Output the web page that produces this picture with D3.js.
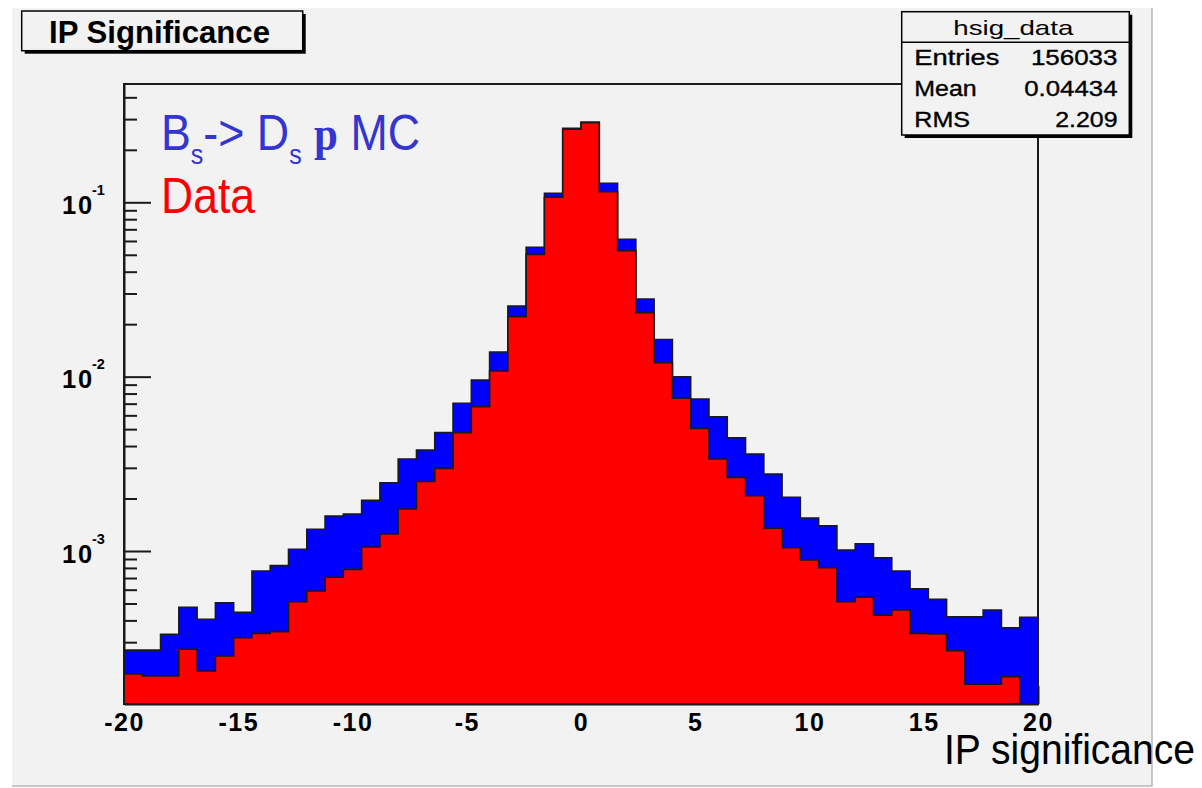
<!DOCTYPE html>
<html>
<head>
<meta charset="utf-8">
<script src="https://cdn.jsdelivr.net/npm/d3@7"></script>
<style>
  html, body { margin: 0; padding: 0; background: #ffffff; }
  svg { display: block; }
  .helv { font-family: 'Liberation Sans', Arial, Helvetica, sans-serif; }
</style>
</head>
<body>
<svg id="chart" width="1202" height="788"></svg>
<script>
// Histogram binning: 50 equal bins over the IP significance range
const xRange = [-20, 20];
const nBins = 50;

// Normalised bin contents, Bs -> Ds pi Monte Carlo (blue)
const mcValues = [
  2.70e-4, 2.70e-4, 3.33e-4, 4.75e-4, 4.06e-4, 5.05e-4, 4.45e-4, 7.68e-4, 8.24e-4, 1.023e-3,
  1.332e-3, 1.588e-3, 1.631e-3, 1.953e-3, 2.464e-3, 3.371e-3, 3.795e-3, 4.782e-3, 7.035e-3, 9.568e-3,
  1.385e-2, 2.543e-2, 5.52e-2, 0.1126, 0.2657, 0.2888, 0.1285, 6.135e-2, 2.789e-2, 1.633e-2,
  9.99e-3, 7.443e-3, 5.892e-3, 4.466e-3, 3.60e-3, 2.764e-3, 2.032e-3, 1.546e-3, 1.397e-3, 1.013e-3,
  1.101e-3, 9.15e-4, 7.68e-4, 6.08e-4, 5.28e-4, 4.20e-4, 4.20e-4, 4.59e-4, 3.63e-4, 4.17e-4
];

// Normalised bin contents, data (red)
const dataValues = [
  1.97e-4, 1.92e-4, 1.92e-4, 2.73e-4, 2.05e-4, 2.50e-4, 3.18e-4, 3.37e-4, 3.45e-4, 5.12e-4,
  5.90e-4, 7.07e-4, 7.85e-4, 1.054e-3, 1.252e-3, 1.741e-3, 2.504e-3, 2.98e-3, 4.77e-3, 6.725e-3,
  1.077e-2, 2.207e-2, 5.03e-2, 0.1068, 0.2622, 0.2861, 0.115, 5.277e-2, 2.327e-2, 1.202e-2,
  7.512e-3, 5.054e-3, 3.371e-3, 2.646e-3, 2.076e-3, 1.35e-3, 1.044e-3, 8.88e-4, 8.02e-4, 5.12e-4,
  5.43e-4, 4.29e-4, 4.59e-4, 3.37e-4, 3.34e-4, 2.68e-4, 1.72e-4, 1.72e-4, 1.90e-4, 0
];

const xTickValues = [-20, -15, -10, -5, 0, 5, 10, 15, 20];
const yDecades = [1e-3, 1e-2, 1e-1];
const yDomain = [1.326e-4, 0.477];

const plotTitle = "IP Significance";
const statsTitle = "hsig_data";
const statsRows = [["Entries", "156033"], ["Mean", "0.04434"], ["RMS", "2.209"]];
const xAxisTitle = "IP significance";

// ---- layout ----
const W = 1202, H = 788;
const pad = { x: 12, y: 8, right: 1152, bottom: 786 };
const frame = { left: 124, right: 1038, top: 84, bottom: 704 };
const bg = "#f2f2f2";
const ink = "#1a1a1a";

const svg = d3.select("#chart");

// canvas pad
svg.append("rect").attr("x", 0).attr("y", 0).attr("width", W).attr("height", H).attr("fill", "#fff");
svg.append("rect").attr("x", pad.x).attr("y", pad.y)
  .attr("width", pad.right - pad.x).attr("height", pad.bottom - pad.y).attr("fill", bg);
svg.append("path")
  .attr("d", `M${pad.right},${pad.y}V${pad.bottom}H${pad.x}`)
  .attr("fill", "none").attr("stroke", "#b8b8b8").attr("stroke-width", 1.5);

// scales
const x = d3.scaleLinear().domain(xRange).range([frame.left, frame.right]);
const y = d3.scaleLog().domain(yDomain).range([frame.bottom, frame.top]).clamp(true);

// ---- axes (drawn first; histogram fills cover ticks) ----
const isDecade = t => Math.abs(Math.log10(t) - Math.round(Math.log10(t))) < 1e-9;
const minorTicks = y.ticks().filter(t => !isDecade(t));

const gYMinor = svg.append("g").attr("transform", `translate(${frame.left},0)`)
  .call(d3.axisRight(y).tickValues(minorTicks).tickSizeInner(13).tickSizeOuter(0).tickFormat(""));
const gYMajor = svg.append("g").attr("transform", `translate(${frame.left},0)`)
  .call(d3.axisRight(y).tickValues(yDecades).tickSizeInner(27).tickSizeOuter(0).tickFormat(""));
gYMajor.select(".domain").remove();
[gYMinor, gYMajor].forEach(g => {
  g.selectAll("line").attr("stroke", ink).attr("stroke-width", 2);
  g.select(".domain").attr("stroke", ink).attr("stroke-width", 2);
});

// decade labels 10^n
const yLab = svg.append("g").attr("class", "helv").attr("font-weight", "bold").attr("fill", "#000");
yDecades.forEach(d => {
  const yy = y(d);
  yLab.append("text").attr("x", 94).attr("y", yy + 11.8)
    .attr("text-anchor", "end").attr("font-size", 25.5).style("letter-spacing", "1.8px").text("10");
  yLab.append("text").attr("x", 92).attr("y", yy - 7.3)
    .attr("text-anchor", "start").attr("font-size", 14.5).text(String(Math.round(Math.log10(d))));
});

const gX = svg.append("g").attr("transform", `translate(0,${frame.bottom})`)
  .call(d3.axisBottom(x).tickValues(xTickValues).tickSizeInner(-18).tickSizeOuter(0)
    .tickPadding(9).tickFormat(d => String(d)));
gX.selectAll("line").attr("stroke", ink).attr("stroke-width", 2);
gX.select(".domain").attr("stroke", ink).attr("stroke-width", 2);
gX.selectAll("text").attr("class", "helv").attr("font-size", 25).attr("font-weight", "bold")
  .attr("fill", "#000").style("letter-spacing", "1.5px");

// ---- histograms as filled step outlines ----
const binW = (xRange[1] - xRange[0]) / nBins;
function stepPoints(values) {
  const pts = [[x(xRange[0]), frame.bottom]];
  values.forEach((v, i) => {
    const lo = xRange[0] + i * binW, hi = lo + binW;
    const yy = v > 0 ? y(v) : frame.bottom;
    pts.push([x(lo), yy], [x(hi), yy]);
  });
  pts.push([x(xRange[1]), frame.bottom]);
  return pts;
}
const line = d3.line();
[[mcValues, "#0000ff"], [dataValues, "#ff0000"]].forEach(([vals, col]) => {
  svg.append("path").attr("d", line(stepPoints(vals)) + "Z")
    .attr("fill", col).attr("stroke", ink).attr("stroke-width", 1.6)
    .attr("stroke-linejoin", "miter");
});

// frame
svg.append("rect").attr("x", frame.left).attr("y", frame.top)
  .attr("width", frame.right - frame.left).attr("height", frame.bottom - frame.top)
  .attr("fill", "none").attr("stroke", ink).attr("stroke-width", 2);

// ---- title box ----
function shadowBox(x0, y0, w, h) {
  svg.append("rect").attr("x", x0 + 3).attr("y", y0 + 3).attr("width", w).attr("height", h).attr("fill", "#000");
  svg.append("rect").attr("x", x0).attr("y", y0).attr("width", w).attr("height", h)
    .attr("fill", bg).attr("stroke", "#000").attr("stroke-width", 1.5);
}
shadowBox(21.7, 11, 281, 39.7);
svg.append("text").attr("class", "helv").attr("x", 49).attr("y", 42.7)
  .attr("font-size", 30.5).attr("font-weight", "bold")
  .attr("textLength", 221).attr("lengthAdjust", "spacingAndGlyphs").text(plotTitle);

// ---- statistics box ----
const sb = { x: 901.7, y: 11.7, w: 227.6, h: 123.3 };
shadowBox(sb.x, sb.y, sb.w, sb.h);
svg.append("line").attr("x1", sb.x).attr("x2", sb.x + sb.w).attr("y1", 42.3).attr("y2", 42.3)
  .attr("stroke", "#000").attr("stroke-width", 1.5);
svg.append("text").attr("class", "helv").attr("x", 953.3).attr("y", 35)
  .attr("font-size", 21).attr("textLength", 120).attr("lengthAdjust", "spacingAndGlyphs")
  .text(statsTitle);
const rowBase = [65, 95.8, 126.6];
const keyWidths = [85, 62.4, 55.7];
const valWidths = [86.6, 93.3, 62.3];
statsRows.forEach(([k, v], i) => {
  svg.append("text").attr("class", "helv").attr("x", 914.3).attr("y", rowBase[i])
    .attr("font-size", 21.5).attr("stroke", "#000").attr("stroke-width", 0.35)
    .attr("textLength", keyWidths[i]).attr("lengthAdjust", "spacingAndGlyphs").text(k);
  svg.append("text").attr("class", "helv").attr("x", 1117.5 - valWidths[i]).attr("y", rowBase[i])
    .attr("font-size", 21.5).attr("stroke", "#000").attr("stroke-width", 0.35)
    .attr("textLength", valWidths[i]).attr("lengthAdjust", "spacingAndGlyphs").text(v);
});

// ---- legend annotations (condensed sans) ----
const mcLabel = svg.append("text").attr("class", "helv").attr("x", 161).attr("y", 150)
  .attr("font-size", 50).attr("fill", "#3535cf")
  .attr("textLength", 259).attr("lengthAdjust", "spacingAndGlyphs");
mcLabel.append("tspan").text("B");
mcLabel.append("tspan").attr("font-size", 28).attr("dy", 14).text("s");
mcLabel.append("tspan").attr("dy", -14).text("-> D");
mcLabel.append("tspan").attr("font-size", 28).attr("dy", 14).text("s");
mcLabel.append("tspan").attr("dy", -14).text(" ");
mcLabel.append("tspan").attr("font-family", "'Liberation Serif', 'Times New Roman', serif")
  .attr("font-weight", "bold").attr("font-size", 48).text("p");
mcLabel.append("tspan").text(" MC");

svg.append("text").attr("class", "helv").attr("x", 161).attr("y", 213.3)
  .attr("font-size", 50).attr("fill", "#ff0000")
  .attr("textLength", 94).attr("lengthAdjust", "spacingAndGlyphs").text("Data");

// x axis title
svg.append("text").attr("class", "helv").attr("x", 944).attr("y", 764)
  .attr("font-size", 42).attr("fill", "#000")
  .attr("textLength", 251).attr("lengthAdjust", "spacingAndGlyphs").text(xAxisTitle);
</script>
</body>
</html>
